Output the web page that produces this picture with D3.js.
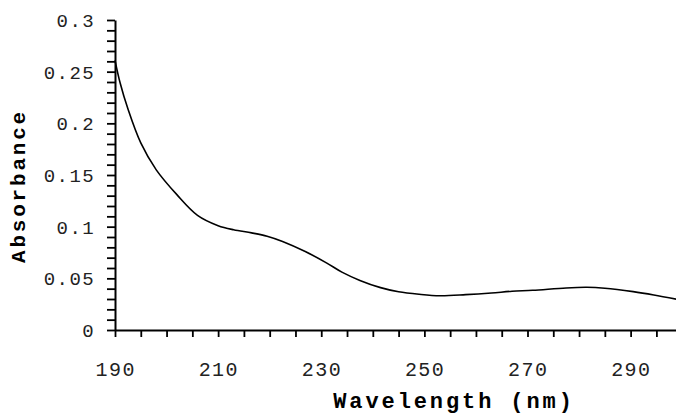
<!DOCTYPE html>
<html>
<head>
<meta charset="utf-8">
<script src="https://cdn.jsdelivr.net/npm/d3@7"></script>
<style>
  html, body { margin: 0; padding: 0; background: #fff; }
  svg { display: block; }
</style>
</head>
<body>
<div id="chart"></div>
<script>
var width = 676;
var height = 416;

// spectrum
var wavelength = [190, 191, 192.5, 195, 198, 202, 206, 210, 213, 216.5, 219.5, 222.5, 227, 231, 234,
                  237.5, 241.5, 245, 249, 253, 258, 263, 267, 271, 277.5, 281.5, 285, 290.5, 294.5, 299];
var absorbance = [0.261, 0.239, 0.214, 0.181, 0.155, 0.131, 0.111, 0.101, 0.097, 0.094, 0.0908,
                  0.0857, 0.0757, 0.065, 0.056, 0.048, 0.041, 0.037, 0.0346, 0.0332, 0.0342, 0.0358,
                  0.0375, 0.0384, 0.0407, 0.0413, 0.0404, 0.0371, 0.0339, 0.0297];

var xTicks = [190, 195, 200, 205, 210, 215, 220, 225, 230, 235, 240, 245, 250, 255, 260, 265,
              270, 275, 280, 285, 290, 295];
var xLabels = [190, 210, 230, 250, 270, 290];
var yTicks = d3.range(0, 31).map(function(i) { return i / 100; });
var yLabels = ["0", "0.05", "0.1", "0.15", "0.2", "0.25", "0.3"];

var data = wavelength.map(function(w, i) { return { x: w, y: absorbance[i] }; });

var x = d3.scaleLinear().domain([190, 298.8]).range([115, 676]);
var y = d3.scaleLinear().domain([0, 0.3]).range([330, 20]);

var svg = d3.select("#chart")
            .append("svg")
            .attr("width", width)
            .attr("height", height);

var monoFont = "'Courier New', Courier, 'Liberation Mono', monospace";

// x axis
var xAxis = d3.axisBottom(x)
              .tickValues(xTicks)
              .tickSize(7)
              .tickSizeOuter(0)
              .tickFormat("");
var gx = svg.append("g")
            .attr("transform", "translate(0," + y(0) + ")")
            .call(xAxis);
gx.select(".domain").attr("stroke", "#000").attr("stroke-width", 2);
gx.selectAll(".tick line").attr("stroke", "#000").attr("stroke-width", 1.8);

// y axis
var yAxis = d3.axisLeft(y)
              .tickValues(yTicks)
              .tickSize(8)
              .tickSizeOuter(0)
              .tickFormat("");
var gy = svg.append("g")
            .attr("transform", "translate(" + x(190) + ",0)")
            .call(yAxis);
gy.select(".domain").attr("stroke", "#000").attr("stroke-width", 2);
gy.selectAll(".tick line").attr("stroke", "#000").attr("stroke-width", 1.8);

// tick labels
svg.selectAll(".xlab")
   .data(xLabels)
   .enter()
   .append("text")
   .attr("class", "xlab")
   .attr("x", function(d) { return x(d) + 0.7; })
   .attr("y", 376)
   .attr("text-anchor", "middle")
   .style("font-family", monoFont)
   .style("font-size", "20px")
   .style("letter-spacing", "1.4px")
   .attr("fill", "#222")
   .text(function(d) { return d; });

svg.selectAll(".ylab")
   .data(yLabels)
   .enter()
   .append("text")
   .attr("class", "ylab")
   .attr("x", 95)
   .attr("y", function(d) { return y(+d) + 7; })
   .attr("text-anchor", "end")
   .style("font-family", monoFont)
   .style("font-size", "19px")
   .style("letter-spacing", "1.4px")
   .attr("fill", "#222")
   .text(function(d) { return d; });

// axis titles
svg.append("text")
   .attr("x", 454)
   .attr("y", 408)
   .attr("text-anchor", "middle")
   .style("font-family", monoFont)
   .style("font-weight", "bold")
   .style("font-size", "22px")
   .style("letter-spacing", "2.9px")
   .text("Wavelength (nm)");

svg.append("text")
   .attr("transform", "translate(25,186) rotate(-90)")
   .attr("text-anchor", "middle")
   .style("font-family", monoFont)
   .style("font-weight", "bold")
   .style("font-size", "21px")
   .style("letter-spacing", "2.8px")
   .text("Absorbance");

// the spectrum
var line = d3.line()
             .x(function(d) { return x(d.x); })
             .y(function(d) { return y(d.y); })
             .curve(d3.curveCatmullRom.alpha(0.5));

svg.append("path")
   .datum(data)
   .attr("d", line)
   .attr("fill", "none")
   .attr("stroke", "#000")
   .attr("stroke-width", 1.6);
</script>
</body>
</html>
